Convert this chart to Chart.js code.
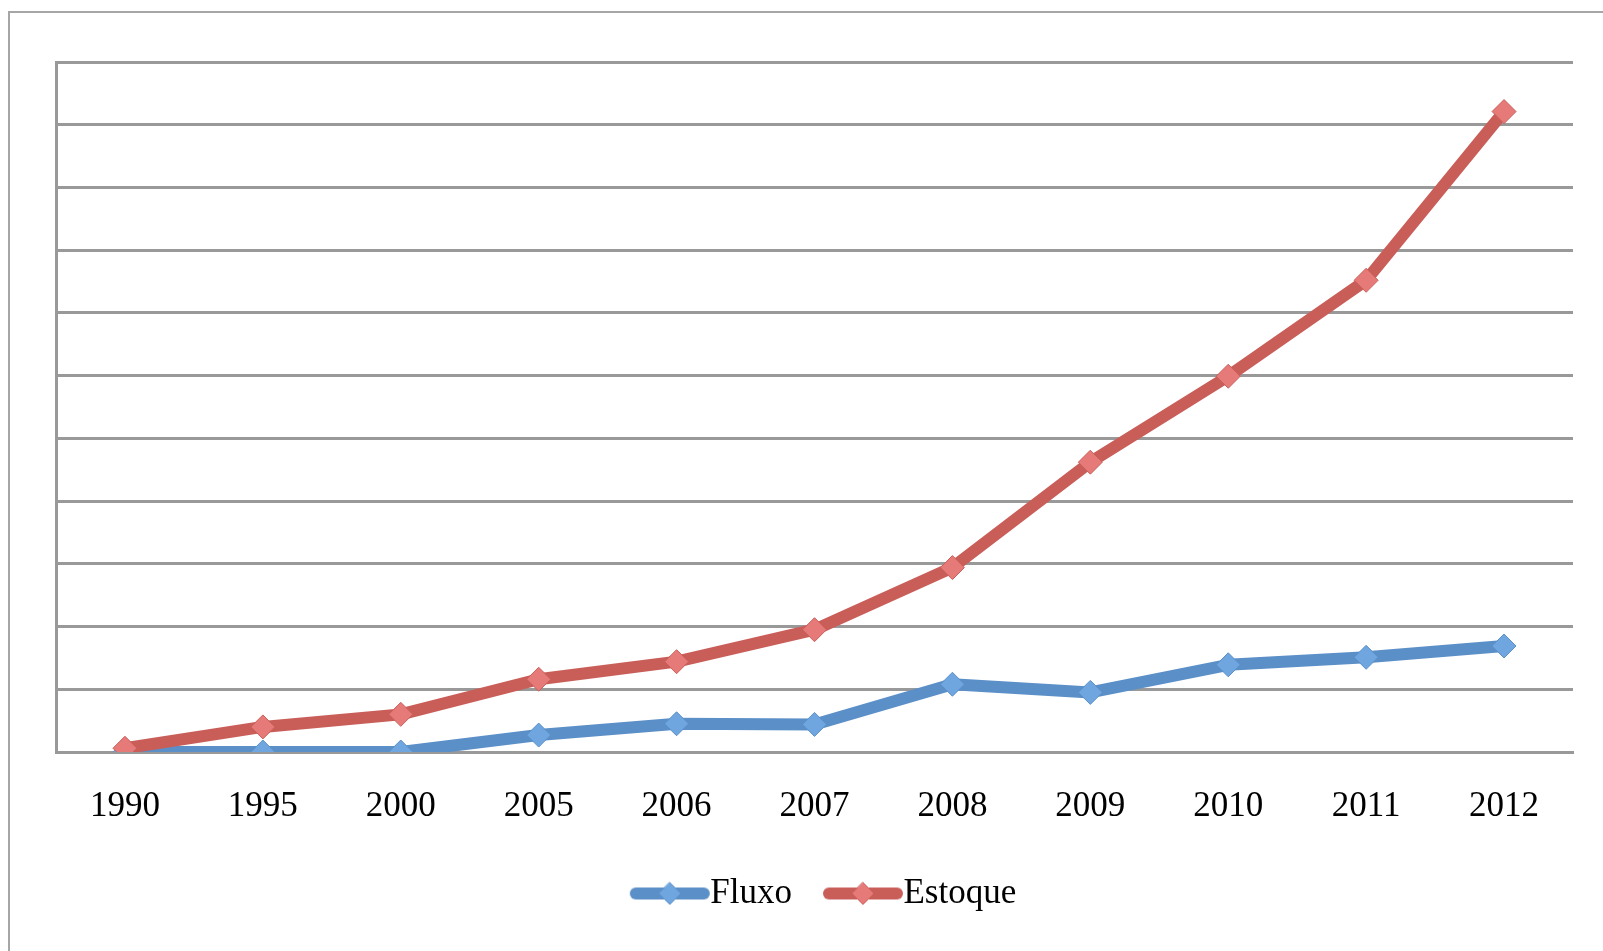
<!DOCTYPE html>
<html>
<head>
<meta charset="utf-8">
<script src="https://cdn.jsdelivr.net/npm/chart.js@4/dist/chart.umd.min.js"></script>
<style>
  body { margin: 0; background: #fff; }
  #wrap { position: relative; width: 1603px; height: 951px; }
  #frame { position: absolute; left: 8px; top: 11px; right: 0; bottom: 0;
           border-left: 2px solid #a6a6a6; border-top: 2px solid #a6a6a6; }
  canvas { position: absolute; left: 0; top: 0; }
</style>
</head>
<body>
<div id="wrap">
  <div id="frame"></div>
  <canvas id="chart" width="1603" height="951"></canvas>
</div>
<script>
const years = ['1990', '1995', '2000', '2005', '2006', '2007', '2008', '2009', '2010', '2011', '2012']
const fluxo = [0.0, 0.0, 0.0, 0.27, 0.45, 0.44, 1.08, 0.95, 1.39, 1.51, 1.69]
const estoque = [0.06, 0.4, 0.6, 1.16, 1.44, 1.95, 2.94, 4.62, 5.99, 7.52, 10.21]

const blue = 'rgb(91,143,199)'
const blueLight = 'rgb(112,166,224)'
const red = 'rgb(201,94,89)'
const redLight = 'rgb(230,122,120)'

// legend swatch: thick line with a diamond in the middle, shifted right inside a wider canvas
const swatch = (line, fill) => {
  const c = document.createElement('canvas')
  c.width = 140
  c.height = 30
  const g = c.getContext('2d')
  const x0 = 53, x1 = 121, mid = (x0 + x1) / 2
  g.strokeStyle = line
  g.lineWidth = 12
  g.lineCap = 'round'
  g.beginPath()
  g.moveTo(x0, 15)
  g.lineTo(x1, 15)
  g.stroke()
  g.fillStyle = fill
  g.strokeStyle = line
  g.lineWidth = 1
  g.beginPath()
  g.moveTo(mid, 4); g.lineTo(mid + 11, 15); g.lineTo(mid, 26); g.lineTo(mid - 11, 15); g.closePath()
  g.fill()
  g.stroke()
  return c
}

const serif = 'Liberation Serif'

new Chart(document.getElementById('chart'), {
  type: 'line',
  data: {
    labels: years,
    datasets: [
      {
        label: 'Fluxo',
        data: fluxo,
        order: 1,
        borderColor: blue,
        borderWidth: 12,
        pointStyle: 'rectRot',
        pointRadius: 12,
        pointBackgroundColor: blueLight,
        pointBorderColor: blue,
        pointBorderWidth: 1,
        tension: 0,
        borderJoinStyle: 'round'
      },
      {
        label: 'Estoque',
        data: estoque,
        order: 0,
        borderColor: red,
        borderWidth: 12,
        pointStyle: 'rectRot',
        pointRadius: 12,
        pointBackgroundColor: redLight,
        pointBorderColor: red,
        pointBorderWidth: 1,
        tension: 0,
        borderJoinStyle: 'round'
      }
    ]
  },
  options: {
    responsive: false,
    animation: false,
    layout: { padding: { top: 62, left: 56, right: 30, bottom: 30 } },
    plugins: {
      tooltip: { enabled: false },
      legend: {
        position: 'bottom',
        labels: {
          font: { family: serif, size: 35 },
          color: '#000',
          usePointStyle: true,
          pointStyleWidth: 80,
          padding: 14,
          sort: (a, b) => a.datasetIndex - b.datasetIndex,
          generateLabels: chart => chart.data.datasets.map((ds, i) => ({
            text: ds.label,
            datasetIndex: i,
            pointStyle: i === 0 ? swatch(blue, blueLight) : swatch(red, redLight),
            fontColor: '#000',
            lineWidth: 0
          }))
        }
      }
    },
    scales: {
      x: {
        offset: true,
        grid: { display: false, drawTicks: false },
        border: { display: true, color: '#999', width: 3 },
        ticks: { font: { family: serif, size: 35 }, color: '#000', padding: 34, maxRotation: 0 },
        afterFit: s => { s.height = 110 }
      },
      y: {
        min: 0,
        max: 11,
        ticks: { display: false, stepSize: 1 },
        grid: { color: '#999', lineWidth: 3, drawTicks: false },
        border: { display: true, color: '#999', width: 3 },
        afterFit: s => { s.width = 0 }
      }
    }
  }
})
</script>
</body>
</html>
